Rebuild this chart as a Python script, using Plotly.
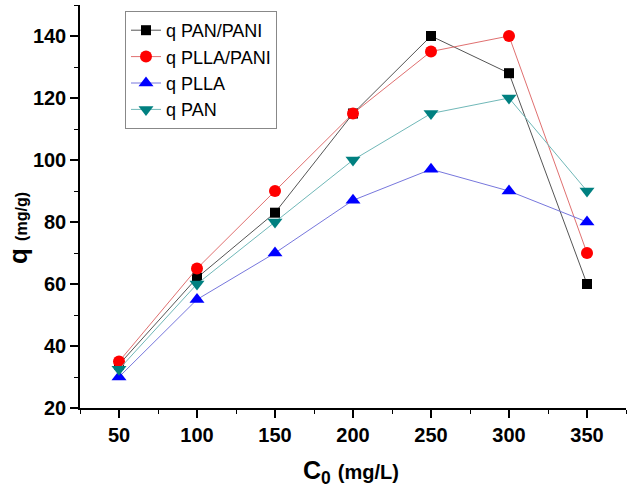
import plotly.graph_objects as go

c0 = [50, 100, 150, 200, 250, 300, 350]
q_pan_pani = [34, 62, 83, 115, 140, 128, 60]
q_plla_pani = [35, 65, 90, 115, 135, 140, 70]
q_plla = [30, 55, 70, 87, 97, 90, 80]
q_pan = [32.5, 60, 80, 100, 115, 120, 90]

series = [
    ("q PAN/PANI", q_pan_pani, "#000000", "#555555", "square", 10),
    ("q PLLA/PANI", q_plla_pani, "#ff0000", "#e07070", "circle", 12),
    ("q PLLA", q_plla, "#0000ff", "#7777dd", "triangle-up", 13),
    ("q PAN", q_pan, "#008080", "#70b8b8", "triangle-down", 13),
]

FONT = "Arial, Liberation Sans, sans-serif"

fig = go.Figure()
for name, ys, mcol, lcol, sym, sz in series:
    fig.add_trace(go.Scatter(
        x=c0, y=ys, name=name, mode="lines+markers",
        line=dict(color=lcol, width=1),
        marker=dict(color=mcol, symbol=sym, size=sz, line=dict(width=0)),
    ))

W, H = 632, 491
L, R, T, B = 80, 6, 5, 83
pw, ph = W - L - R, H - T - B


def px_x(p):
    return (p - L) / pw


def px_y(p):
    return (H - B - p) / ph


fig.update_layout(
    width=W, height=H,
    margin=dict(l=L, r=R, t=T, b=B),
    plot_bgcolor="white", paper_bgcolor="white",
    font=dict(family=FONT, color="black"),
    showlegend=True,
    legend=dict(
        x=px_x(125), y=px_y(11), xanchor="left", yanchor="top",
        bordercolor="#888888", borderwidth=1, bgcolor="white",
        font=dict(size=18, family=FONT),
        tracegroupgap=0, entrywidth=130, entrywidthmode="pixels",
    ),
    xaxis=dict(
        range=[25, 375], tick0=50, dtick=50,
        showgrid=False, zeroline=False,
        showline=True, linecolor="black", linewidth=1.5,
        ticks="outside", ticklen=8, tickwidth=1.5, tickcolor="black",
        tickfont=dict(size=20, family=FONT, weight="bold"),
        minor=dict(dtick=25, tick0=25, ticks="outside", ticklen=4, tickwidth=1, tickcolor="black", showgrid=False),
    ),
    yaxis=dict(
        range=[20, 150], tick0=20, dtick=20,
        showgrid=False, zeroline=False,
        showline=True, linecolor="black", linewidth=1.5,
        ticks="outside", ticklen=8, tickwidth=1.5, tickcolor="black",
        tickfont=dict(size=20, family=FONT, weight="bold"),
        minor=dict(dtick=10, tick0=20, ticks="outside", ticklen=4, tickwidth=1, tickcolor="black", showgrid=False),
    ),
    annotations=[
        dict(
            text="<b>q</b> <b><span style='font-size:16px'>(mg/g)</span></b>",
            xref="paper", yref="paper", x=px_x(1), y=px_y(228),
            xanchor="left", yanchor="middle", textangle=-90,
            showarrow=False, font=dict(size=26, family=FONT, color="black"),
        ),
        dict(
            text="<b>C<sub>0</sub></b> <b><span style='font-size:20px'>(mg/L)</span></b>",
            xref="paper", yref="paper", x=px_x(351), y=px_y(472),
            xanchor="center", yanchor="middle",
            showarrow=False, font=dict(size=25, family=FONT, color="black"),
        ),
    ],
)

fig.write_html("out.html", config={"displayModeBar": False},
               post_script="document.body.style.margin='0px';")
